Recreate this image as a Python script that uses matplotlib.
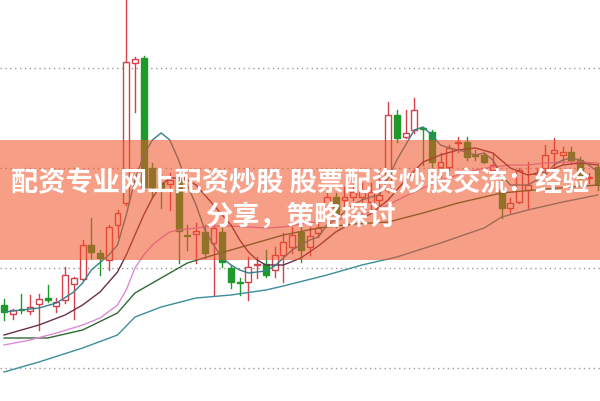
import matplotlib.pyplot as plt
from matplotlib.patches import Rectangle
import numpy as np

plt.rcParams['font.family'] = ['Noto Sans CJK SC', 'DejaVu Sans']

# daily candles (price units)
opens = [10.63, 10.54, 10.59, 10.57, 10.64, 10.70, 10.62, 10.68, 10.84, 10.89,
         11.23, 11.15, 11.08, 11.43, 11.65, 13.05, 13.10, 12.00, 11.85, 11.84,
         11.88, 11.33, 11.34, 11.36, 11.25, 11.36, 11.00, 10.86, 10.86, 11.03,
         11.04, 10.98, 11.13, 11.21, 11.36, 11.21, 11.35, 11.61, 11.71, 11.68,
         11.71, 11.71, 11.66, 11.68, 11.78, 12.53, 12.31, 12.38, 12.40, 12.36,
         12.01, 12.01, 12.25, 12.26, 12.13, 12.13, 11.98, 11.78, 11.60, 11.66,
         11.78, 11.94, 12.00, 12.15, 12.13, 12.16, 12.08, 11.90, 12.01]
closes = [10.56, 10.58, 10.58, 10.61, 10.69, 10.68, 10.66, 10.93, 10.90, 11.23,
          11.16, 11.10, 11.41, 11.55, 13.06, 13.09, 11.81, 11.81, 11.80, 11.88,
          11.37, 11.32, 11.37, 11.15, 11.40, 11.06, 10.86, 10.85, 11.01, 11.04,
          10.93, 11.13, 11.26, 11.33, 11.18, 11.32, 11.40, 11.71, 11.53, 11.71,
          11.76, 11.78, 11.76, 11.73, 12.53, 12.30, 12.35, 12.58, 12.39, 12.06,
          12.06, 12.20, 12.26, 12.11, 12.12, 12.06, 12.03, 11.60, 11.65, 11.98,
          11.83, 11.95, 12.13, 12.18, 12.16, 12.08, 11.90, 11.91, 11.83]
highs = [10.69, 10.59, 10.74, 10.73, 10.74, 10.83, 10.70, 11.01, 10.91, 11.28,
         11.50, 11.18, 11.43, 11.58, 13.80, 13.11, 13.12, 12.05, 11.95, 11.95,
         11.92, 11.43, 11.45, 11.43, 11.46, 11.40, 11.03, 10.90, 11.11, 11.11,
         11.18, 11.21, 11.35, 11.41, 11.41, 11.41, 11.48, 11.75, 11.75, 11.81,
         11.83, 11.85, 11.85, 11.98, 12.66, 12.58, 12.58, 12.70, 12.41, 12.38,
         12.15, 12.23, 12.31, 12.31, 12.18, 12.15, 12.15, 11.88, 11.70, 12.00,
         12.06, 12.00, 12.23, 12.30, 12.21, 12.21, 12.11, 11.95, 12.05]
lows = [10.48, 10.49, 10.55, 10.54, 10.38, 10.66, 10.56, 10.65, 10.49, 10.88,
        11.10, 10.93, 10.98, 11.31, 11.63, 12.56, 11.78, 11.71, 11.60, 11.58,
        11.05, 11.18, 11.05, 11.10, 10.73, 11.01, 10.80, 10.73, 10.68, 10.90,
        10.91, 10.91, 10.86, 11.15, 11.06, 11.13, 11.31, 11.58, 11.41, 11.61,
        11.68, 11.65, 11.56, 11.61, 11.76, 12.26, 12.30, 12.35, 12.03, 12.01,
        11.91, 11.98, 12.16, 12.08, 12.08, 12.05, 11.91, 11.50, 11.55, 11.65,
        11.60, 11.88, 11.98, 12.00, 12.05, 12.05, 11.88, 11.85, 11.78]

# moving average lines, read at selected candle indices
ma5_x = [0, 2, 4, 6, 8, 9, 10, 12, 13, 14, 15, 16, 17, 18, 19, 20, 21, 22, 23, 24,
         25, 26, 27, 28, 29, 30, 31, 32, 33, 34, 35, 36, 37, 38, 39, 40, 41, 42, 43,
         44, 45, 46, 47, 48, 49, 50, 51, 52, 53, 54, 55, 56, 57, 58, 59, 60, 61, 62,
         63, 64, 65, 66, 67, 68]
ma5_y = [10.56, 10.58, 10.60, 10.65, 10.76, 10.85, 10.98, 11.13, 11.23, 11.53,
         11.88, 12.13, 12.28, 12.35, 12.28, 12.08, 11.83, 11.63, 11.38, 11.23,
         11.10, 11.03, 10.98, 10.95, 10.96, 10.97, 11.02, 11.10, 11.18, 11.23,
         11.28, 11.31, 11.43, 11.48, 11.56, 11.63, 11.68, 11.71, 11.73, 11.90,
         12.08, 12.23, 12.38, 12.41, 12.33, 12.23, 12.20, 12.18, 12.16, 12.13,
         12.15, 12.08, 11.93, 11.83, 11.83, 11.83, 11.88, 11.93, 12.03, 12.08,
         12.10, 12.08, 12.03, 11.96]
ma10_x = [0, 4, 7, 9, 11, 12, 13, 14, 15, 16, 17, 18, 19, 20, 21, 22, 23, 24, 25,
          26, 27, 28, 29, 30, 32, 34, 36, 38, 40, 42, 44, 46, 48, 50, 52, 54, 56,
          58, 60, 62, 64, 66, 68]
ma10_y = [10.33, 10.43, 10.53, 10.63, 10.76, 10.86, 10.96, 11.13, 11.33, 11.53,
          11.70, 11.83, 11.90, 11.90, 11.88, 11.83, 11.73, 11.63, 11.53, 11.43,
          11.28, 11.16, 11.08, 11.03, 11.03, 11.10, 11.22, 11.36, 11.46, 11.54,
          11.68, 11.88, 12.06, 12.13, 12.18, 12.20, 12.15, 12.00, 11.93, 11.96,
          12.03, 12.05, 12.03]
ma20_x = [0, 3, 6, 9, 11, 13, 14, 15, 16, 17, 18, 19, 20, 22, 24, 26, 28, 30, 32,
          34, 36, 38, 40, 42, 44, 46, 48, 50, 52, 54, 56, 58, 60, 62, 64, 66, 68]
ma20_y = [10.23, 10.28, 10.35, 10.43, 10.50, 10.63, 10.78, 11.00, 11.13, 11.23,
          11.30, 11.36, 11.38, 11.40, 11.42, 11.42, 11.41, 11.40, 11.41, 11.44,
          11.46, 11.48, 11.52, 11.56, 11.63, 11.72, 11.80, 11.88, 11.93, 11.98,
          12.01, 12.03, 12.03, 12.05, 12.06, 12.06, 12.05]
ma30_x = [0, 5, 9, 13, 15, 18, 21, 24, 28, 32, 36, 40, 44, 48, 52, 57, 62, 68]
ma30_y = [10.30, 10.30, 10.38, 10.55, 10.75, 10.90, 11.05, 11.13, 11.23, 11.33,
          11.40, 11.44, 11.46, 11.55, 11.65, 11.75, 11.79, 11.83]
ma60_x = [0, 4, 9, 13, 15, 18, 22, 26, 30, 32, 37, 41, 45, 50, 55, 57, 60, 64, 68]
ma60_y = [9.96, 10.06, 10.20, 10.33, 10.51, 10.61, 10.70, 10.73, 10.78, 10.82,
          10.93, 11.03, 11.11, 11.25, 11.40, 11.51, 11.58, 11.66, 11.73]

grid_levels = [10.0, 11.0, 12.0, 13.0]

line1 = '配资专业网上配资炒股 股票配资炒股交流：经验'
line2 = '分享，策略探讨'

up_color = '#d5404b'
down_color = '#1e9a2c'

fig = plt.figure(figsize=(6, 4.01), dpi=100)
ax = fig.add_axes([0, 0, 1, 1])
ax.set_xlim(-0.46, 68.27)
ax.set_ylim(9.67, 13.68)
ax.axis('off')

for g in grid_levels:
    ax.axhline(g, color='#9a9a9a', lw=1, ls=(0, (1, 2.5)), zorder=1)

w = 0.68
for i, (o, c, h, l) in enumerate(zip(opens, closes, highs, lows)):
    if c >= o:
        lo_b, hi_b = o, c
        ax.plot([i, i], [l, lo_b], color=up_color, lw=1, zorder=2)
        ax.plot([i, i], [hi_b, h], color=up_color, lw=1, zorder=2)
        ax.add_patch(Rectangle((i - w / 2, lo_b), w, max(hi_b - lo_b, 0.005),
                               facecolor='white', edgecolor=up_color, lw=1, zorder=3))
    else:
        ax.plot([i, i], [l, h], color=down_color, lw=1, zorder=2)
        ax.add_patch(Rectangle((i - w / 2, c), w, max(o - c, 0.005),
                               facecolor=down_color, edgecolor=down_color, lw=1, zorder=3))

ax.plot(ma60_x, ma60_y, color='#3b8d9c', lw=1, zorder=4)
ax.plot(ma30_x, ma30_y, color='#2f6a34', lw=1, zorder=4)
ax.plot(ma20_x, ma20_y, color='#dc8ad8', lw=1, zorder=4)
ax.plot(ma10_x, ma10_y, color='#6a2f4c', lw=1, zorder=4)
ax.plot(ma5_x, ma5_y, color='#35818c', lw=1, zorder=4)

# translucent banner with caption
ax.add_patch(Rectangle((0, 1 - 260 / 401), 1, 120 / 401, transform=ax.transAxes,
                       facecolor='#f05123', alpha=0.55, lw=0, zorder=5))
ax.text(0.5, 1 - 183 / 401, line1, transform=ax.transAxes, ha='center', va='center',
        color='white', fontsize=19.6, fontweight='bold', zorder=6)
ax.text(0.5, 1 - 218 / 401, line2, transform=ax.transAxes, ha='center', va='center',
        color='white', fontsize=19.6, fontweight='bold', zorder=6)

fig.savefig('out.png', dpi=100)
